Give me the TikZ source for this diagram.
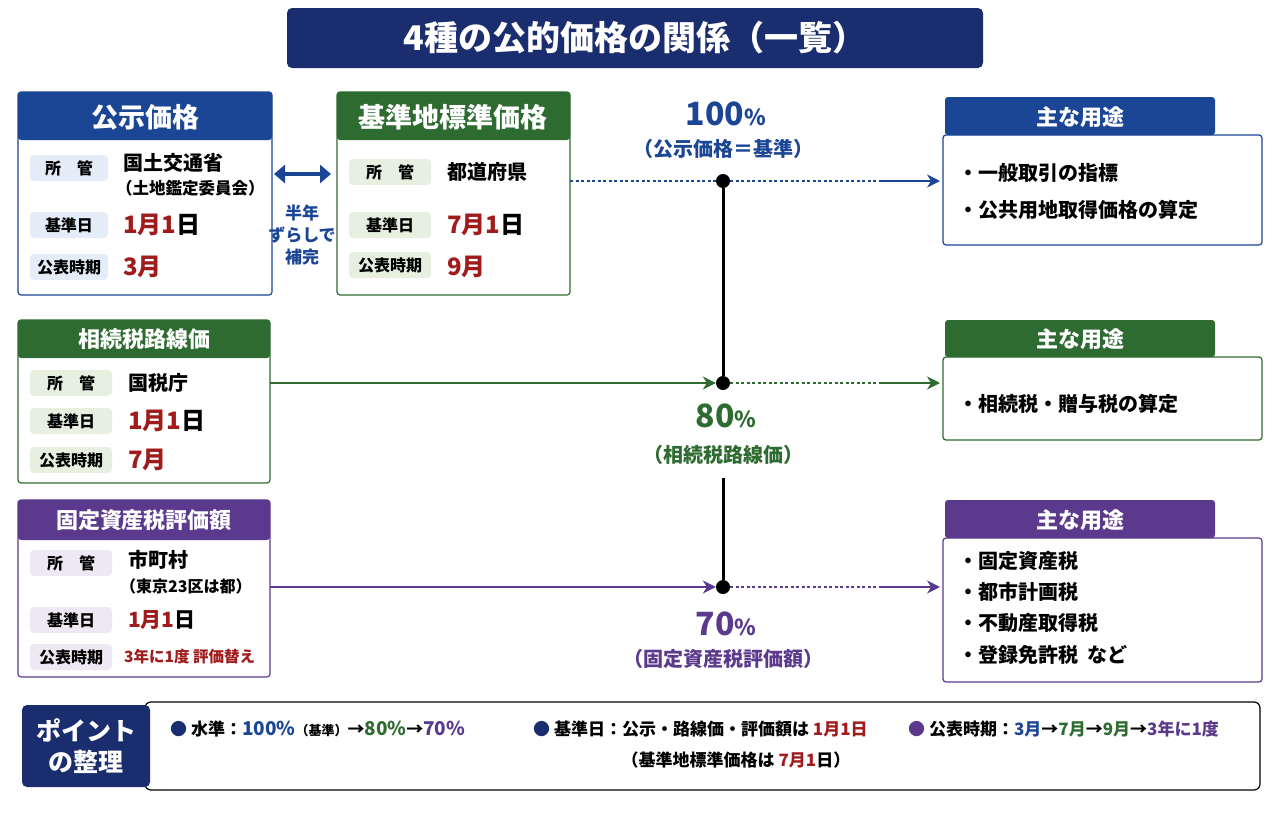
\documentclass[tikz,border=0pt]{standalone}
\usepackage{fontspec}
\setmainfont{Noto Sans CJK JP}
\usetikzlibrary{arrows.meta}
\definecolor{navy}{HTML}{1A2D6E}
\definecolor{cb}{HTML}{1B4595}
\definecolor{cg}{HTML}{2E6B30}
\definecolor{cp}{HTML}{5B3A8E}
\definecolor{cr}{HTML}{A01C1C}
\definecolor{tb}{HTML}{E3ECF7}
\definecolor{tg}{HTML}{E6EFE0}
\definecolor{tp}{HTML}{EEE8F4}
\begin{document}
\begin{tikzpicture}[x=1pt,y=-1pt,
  box/.style={draw=#1,line width=1.2pt,rounded corners=3},
  hdr/.style={fill=#1,rounded corners=3},
  htxt/.style={text=white,font=\bfseries\fontsize{27}{29}\selectfont},
  tag/.style={fill=#1,rounded corners=4,minimum height=26,inner sep=2,font=\bfseries\fontsize{16}{18}\selectfont},
  val/.style={anchor=west,inner sep=0,font=\bfseries\fontsize{20}{22}\selectfont},
  num/.style={text=cr,font=\bfseries\fontsize{24}{26}\selectfont},
  dot/.style={circle,fill=black,inner sep=0,minimum size=14},
  use/.style={anchor=west,inner sep=0,font=\bfseries\fontsize{20}{22}\selectfont},
  pct/.style={font=\bfseries\fontsize{32}{34}\selectfont},
  sub/.style={font=\bfseries\fontsize{20}{22}\selectfont},
  dsh/.style={line width=1.2pt,dash pattern=on 3pt off 2.5pt},
  arr/.style={line width=1.6pt,-{Stealth[length=13,width=13]}}]
\useasboundingbox (0,0) rectangle (1280,817);
\fill[white] (0,0) rectangle (1280,817);
% title
\node[fill=navy,rounded corners=5,minimum width=696,minimum height=60,text=white,font=\bfseries\fontsize{34}{36}\selectfont] (title) at (635,38) {4種の公的価格の関係（一覧）};
% box1
\draw[box=cb] (18,92) rectangle (272,295);
\fill[hdr=cb] (18,92) rectangle (272,140);
\node[htxt] (h1) at (145,117) {公示価格};
\node[tag=tb,minimum width=78] (t11) at (69,168) {所\quad 管};
\node[val] (v11) at (123,163) {国土交通省};
\node[val,font=\bfseries\fontsize{16.5}{18}\selectfont] (v11b) at (116,188) {（土地鑑定委員会）};
\node[tag=tb,minimum width=78] (t12) at (69,225) {基準日};
\node[val,num] (v12) at (123,225) {1月1\textcolor{black}{日}};
\node[tag=tb,minimum width=78] (t13) at (69,267) {公表時期};
\node[val,num] (v13) at (123,267) {3月};
% double arrow
\draw[cb,line width=4pt,{Triangle[length=11,width=18]}-{Triangle[length=11,width=18]}] (274,174) -- (331,174);
\node[text=cb,font=\bfseries\fontsize{17}{22}\selectfont,align=center] (shift) at (302,235) {半年\\ずらしで\\補完};
% box2
\draw[box=cg] (337,92) rectangle (570,295);
\fill[hdr=cg] (337,92) rectangle (570,140);
\node[htxt] (h2) at (453,117) {基準地標準価格};
\node[tag=tg,minimum width=82] (t21) at (390,172) {所\quad 管};
\node[val] (v21) at (447,172) {都道府県};
\node[tag=tg,minimum width=82] (t22) at (390,225) {基準日};
\node[val,num] (v22) at (447,225) {7月1\textcolor{black}{日}};
\node[tag=tg,minimum width=82] (t23) at (390,265) {公表時期};
\node[val,num] (v23) at (447,267) {9月};
% box3
\draw[box=cg] (18,320) rectangle (270,483);
\fill[hdr=cg] (18,320) rectangle (270,358);
\node[htxt,font=\bfseries\fontsize{22}{24}\selectfont] (h3) at (144,339) {相続税路線価};
\node[tag=tg,minimum width=82] (t31) at (71,383) {所\quad 管};
\node[val] (v31) at (128,383) {国税庁};
\node[tag=tg,minimum width=82] (t32) at (71,421) {基準日};
\node[val,num] (v32) at (128,421) {1月1\textcolor{black}{日}};
\node[tag=tg,minimum width=82] (t33) at (71,460) {公表時期};
\node[val,num] (v33) at (128,460) {7月};
% box4
\draw[box=cp] (18,500) rectangle (270,677);
\fill[hdr=cp] (18,500) rectangle (270,540);
\node[htxt,font=\bfseries\fontsize{22}{24}\selectfont] (h4) at (144,520) {固定資産税評価額};
\node[tag=tp,minimum width=82] (t41) at (71,563) {所\quad 管};
\node[val] (v41) at (128,560) {市町村};
\node[val,font=\bfseries\fontsize{16}{18}\selectfont] (v41b) at (120,586) {（東京23区は都）};
\node[tag=tp,minimum width=82] (t42) at (71,620) {基準日};
\node[val,num,font=\bfseries\fontsize{21}{23}\selectfont] (v42) at (128,620) {1月1\textcolor{black}{日}};
\node[tag=tp,minimum width=82] (t43) at (71,657) {公表時期};
\node[val,text=cr,font=\bfseries\fontsize{15.5}{17}\selectfont] (v43) at (124,657) {3年に1度 評価替え};
% center
\node[dot] (d1) at (723,181) {};
\node[dot] (d2) at (723,383) {};
\node[dot] (d3) at (723,587) {};
\node[pct,text=cb] (p1) at (726,114) {100\fontsize{22}{24}\selectfont\%};
\node[sub,text=cb] (s1) at (723,149) {（公示価格＝基準）};
\node[pct,text=cg] (p2) at (726,416) {80\fontsize{22}{24}\selectfont\%};
\node[sub,text=cg] (s2) at (723,455) {（相続税路線価）};
\node[pct,text=cp] (p3) at (726,624) {70\fontsize{22}{24}\selectfont\%};
\node[sub,text=cp] (s3) at (723,659) {（固定資産税評価額）};
\coordinate (g1) at (723,478);
\draw[line width=3pt] (d1) -- (d2);
\draw[line width=3pt] (g1) -- (d3);
\draw[cb,dsh] (570,181) -- (d1);
\draw[arr,cg] (270,383) -- (d2);
\draw[arr,cp] (270,587) -- (d3);
\coordinate (e1) at (882,181); \coordinate (f1) at (940,181);
\coordinate (e2) at (882,383); \coordinate (f2) at (940,383);
\coordinate (e3) at (882,587); \coordinate (f3) at (940,587);
\draw[cb,dsh] (d1) -- (e1); \draw[arr,cb,line width=2.2pt] (e1) -- (f1);
\draw[cg,dsh] (d2) -- (e2); \draw[arr,cg,line width=2.2pt] (e2) -- (f2);
\draw[cp,dsh] (d3) -- (e3); \draw[arr,cp,line width=2.2pt] (e3) -- (f3);
% right boxes
\draw[box=cb] (943,135) rectangle (1262,245);
\fill[hdr=cb] (945,97) rectangle (1215,135);
\node[htxt,font=\bfseries\fontsize{22}{24}\selectfont] (u1) at (1080,117) {主な用途};
\node[use] (u11) at (958,173) {・一般取引の指標};
\node[use] (u12) at (958,210) {・公共用地取得価格の算定};
\draw[box=cg] (943,357) rectangle (1262,440);
\fill[hdr=cg] (945,320) rectangle (1215,357);
\node[htxt,font=\bfseries\fontsize{22}{24}\selectfont] (u2) at (1080,339) {主な用途};
\node[use] (u21) at (958,404) {・相続税・贈与税の算定};
\draw[box=cp] (943,538) rectangle (1262,682);
\fill[hdr=cp] (945,500) rectangle (1215,538);
\node[htxt,font=\bfseries\fontsize{22}{24}\selectfont] (u3) at (1080,520) {主な用途};
\node[use] (u31) at (958,561) {・固定資産税};
\node[use] (u32) at (958,592) {・都市計画税};
\node[use] (u33) at (958,623) {・不動産取得税};
\node[use] (u34) at (958,655) {・登録免許税\ \ など};
% bottom
\draw[line width=1.2pt,rounded corners=6] (145,702) rectangle (1260,790);
\node[fill=navy,rounded corners=5,minimum width=128,minimum height=82,text=white,align=center,font=\bfseries\fontsize{25}{31}\selectfont] (pt) at (86,746) {ポイント\\の整理};
\node[anchor=west,inner sep=0,font=\bfseries\fontsize{17}{19}\selectfont] (b1) at (170,729) {\textcolor{navy}{●} 水準：\textcolor{cb}{\fontsize{19}{20}\selectfont 100\%}\fontsize{13}{14}\selectfont（基準）\fontsize{17}{19}\selectfont→\textcolor{cg}{\fontsize{19}{20}\selectfont 80\%}→\textcolor{cp}{\fontsize{19}{20}\selectfont 70\%}};
\node[anchor=west,inner sep=0,font=\bfseries\fontsize{17}{19}\selectfont] (b2) at (533,729) {\textcolor{navy}{●} 基準日：公示・路線価・評価額は \textcolor{cr}{1月1日}};
\node[anchor=west,inner sep=0,font=\bfseries\fontsize{17}{19}\selectfont] (b3) at (908,729) {\textcolor{cp}{●} 公表時期：\textcolor{cb}{3月}→\textcolor{cg}{7月}→\textcolor{cg}{9月}→\textcolor{cp}{3年に1度}};
\node[font=\bfseries\fontsize{17}{19}\selectfont] (b4) at (736,760) {（基準地標準価格は \textcolor{cr}{7月1}日）};
\end{tikzpicture}
\end{document}
